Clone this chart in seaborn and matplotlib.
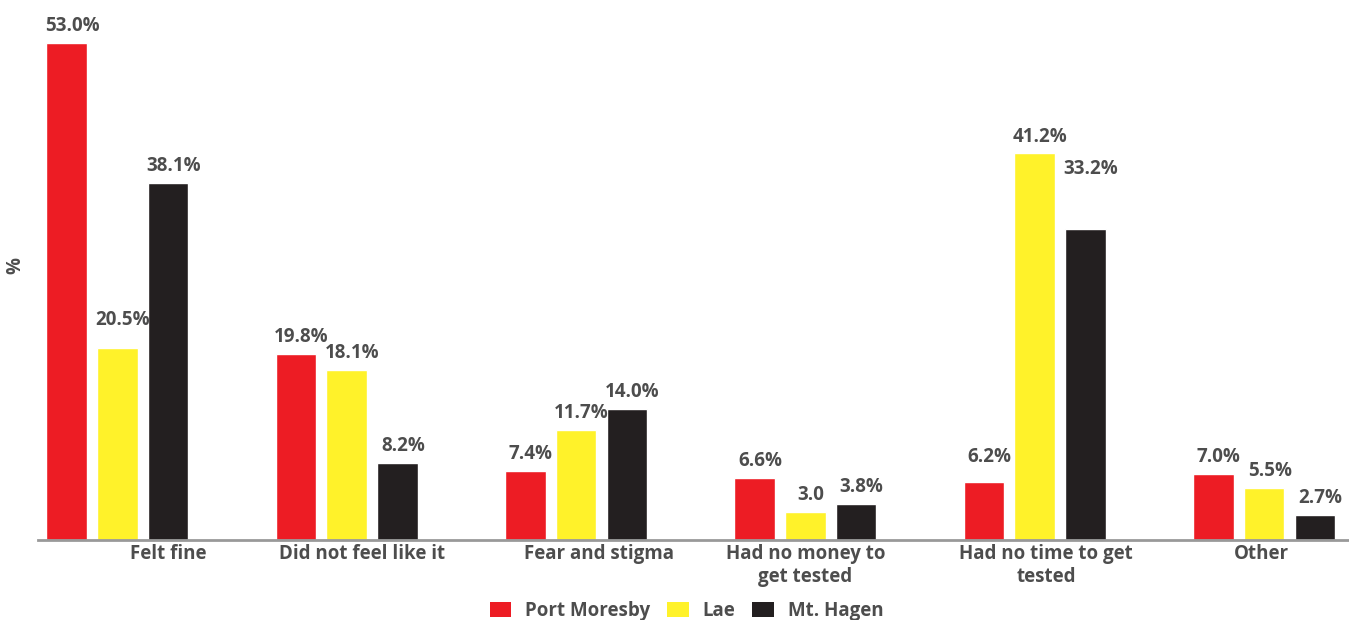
import matplotlib
matplotlib.use("Agg")
import matplotlib.pyplot as plt
import seaborn as sns
import pandas as pd
from matplotlib.patches import Patch

categories = ["Felt fine", "Did not feel like it", "Fear and stigma",
              "Had no money to\nget tested", "Had no time to get\ntested", "Other"]
series = ["Port Moresby", "Lae", "Mt. Hagen"]
port_moresby = [53.0, 19.8, 7.4, 6.6, 6.2, 7.0]
lae = [20.5, 18.1, 11.7, 3.0, 41.2, 5.5]
mt_hagen = [38.1, 8.2, 14.0, 3.8, 33.2, 2.7]
labels_pm = ["53.0%", "19.8%", "7.4%", "6.6%", "6.2%", "7.0%"]
labels_lae = ["20.5%", "18.1%", "11.7%", "3.0", "41.2%", "5.5%"]
labels_mh = ["38.1%", "8.2%", "14.0%", "3.8%", "33.2%", "2.7%"]

colors = ["#ED1C24", "#FFF22A", "#231F20"]
text_color = "#4D4D4D"

sns.set_theme(style="white")
plt.rcParams["font.family"] = ["Open Sans", "DejaVu Sans"]
plt.rcParams["font.weight"] = "bold"

rows = []
for s, vals in zip(series, [port_moresby, lae, mt_hagen]):
    for c, v in zip(categories, vals):
        rows.append({"category": c, "city": s, "value": v})
df = pd.DataFrame(rows)

fig = plt.figure(figsize=(13.49, 6.2), dpi=100)
ax = fig.add_axes([38 / 1349, 80 / 620, 1 - 38 / 1349, 516 / 620])

sns.barplot(data=df, x="category", y="value", hue="city", order=categories,
            hue_order=series, palette=colors, width=0.664, gap=0.2,
            saturation=1, legend=False, ax=ax)

ax.set_xlim(-0.346, 5.37)
ax.set_ylim(0, 55)

all_labels = [labels_pm, labels_lae, labels_mh]
extra_offset = {(2, 4): 31, (1, 0): 8, (0, 4): 6}
for si, cont in enumerate(ax.containers):
    for ci, bar in enumerate(cont):
        dy = 5 + extra_offset.get((si, ci), 0)
        ax.annotate(all_labels[si][ci],
                    (bar.get_x() + bar.get_width() / 2, bar.get_height()),
                    xytext=(4, dy), textcoords="offset points",
                    ha="center", va="bottom", fontsize=13.5, fontweight="bold",
                    color=text_color, annotation_clip=False)

tick_shift = [0.22, 0.065, 0.10, 0.0, 0.05, -0.01]
ax.set_xticks([i + d for i, d in enumerate(tick_shift)])
ax.set_xticklabels(categories, fontsize=13.5, fontweight="bold", color=text_color,
                   linespacing=1.2)
ax.tick_params(axis="x", length=0, pad=3)
ax.set_yticks([])
ax.set_xlabel("")
ax.set_ylabel("")
fig.text(15 / 1349, 1 - 265 / 620, "%", rotation=90, ha="center", va="center",
         fontsize=13.5, fontweight="bold", color=text_color)

for sp in ["top", "right", "left"]:
    ax.spines[sp].set_visible(False)
ax.spines["bottom"].set_color("#999999")
ax.spines["bottom"].set_linewidth(2)

handles = [Patch(facecolor=c, edgecolor="none") for c in colors]
fig.legend(handles, series, loc="center", bbox_to_anchor=(0.509, 9 / 620),
           ncol=3, frameon=False, handlelength=1.15,
           handleheight=0.85, handletextpad=0.75, columnspacing=0.9,
           labelcolor=text_color, prop={"weight": "bold", "size": 13.5})

fig.savefig("out.png", dpi=100)
